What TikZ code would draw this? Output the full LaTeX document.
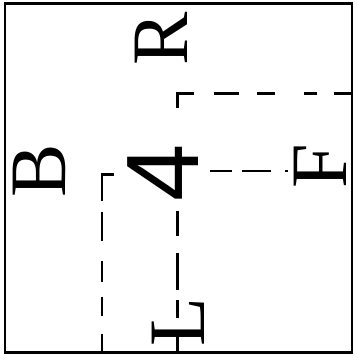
\documentclass[tikz,border=0pt]{standalone}
\usepackage{fontspec}
\setmainfont{Liberation Serif}
\newfontfamily\digitfont{Liberation Sans}
\begin{document}
\begin{tikzpicture}[x=1pt,y=-1pt,
  face/.style={rotate=90, inner sep=0pt, font=\fontsize{80}{80}\selectfont},
  numface/.style={rotate=90, inner sep=0pt, font=\digitfont\fontsize{103}{103}\selectfont},
  frameline/.style={line width=2.8pt},
  hiddenline/.style={line width=2.6pt}]
\useasboundingbox (0,0) rectangle (357,358);
% frame
\draw[frameline] (5,3.5) rectangle (352,352.5);
% labels
\node[face] (B) at (39,171) {B};
\node[face] (R) at (161,39) {R};
\node[face] (F) at (320,166) {F};
\node[face] (L) at (178,322) {L};
\node[numface] (four) at (163,173) {4};
% corner points of the hidden lines
\coordinate (la) at (114,174.5);
\coordinate (lc) at (102,174.5);
\coordinate (lb) at (102,352);
\coordinate (ma) at (352,93.5);
\coordinate (mc) at (177.5,93.5);
\coordinate (mb) at (177.5,352);
\coordinate (ha) at (210,170.5);
\coordinate (hb) at (290,170.5);
% left hidden line
\draw[hiddenline, line width=2.8pt,
  dash pattern=on 38pt off 11pt on 29pt off 20pt on 21pt off 15pt on 19pt off 18pt on 30pt]
  (la) -- (lc) -- (lb);
% top-right / middle hidden line
\draw[hiddenline, line width=2.3pt,
  dash pattern=on 18pt off 17pt on 13pt off 29pt on 18pt off 18pt on 25pt off 20pt on 31pt off 40pt on 50pt off 13pt on 25pt off 17pt on 37pt off 10pt on 18pt off 12pt on 30pt]
  (ma) -- (mc) -- (mb);
% horizontal hidden line to F
\draw[hiddenline, line width=2pt, dash pattern=on 22pt off 10pt on 29pt off 14pt on 3pt off 20pt]
  (ha) -- (hb);
\end{tikzpicture}
\end{document}
